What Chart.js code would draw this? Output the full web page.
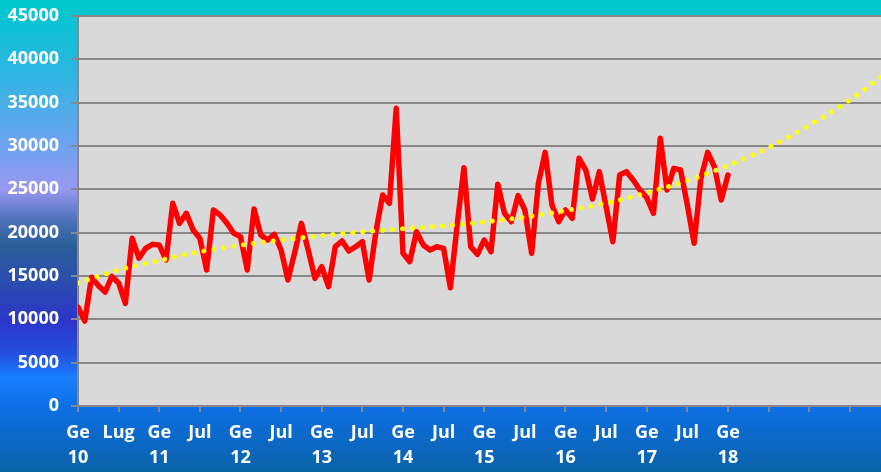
<!DOCTYPE html>
<html>
<head>
<meta charset="utf-8">
<script src="https://cdn.jsdelivr.net/npm/chart.js@4/dist/chart.umd.min.js"></script>
<style>
  html, body { margin: 0; padding: 0; }
  #wrap { width: 881px; height: 472px; }
</style>
</head>
<body>
<div id="wrap"><canvas id="grafico"></canvas></div>
<script>
// valori mensili, da Gennaio 2010 a Gennaio 2018 (indice mese 0..96)
const valoriMensili = [
  11400, 9800, 14850, 13900, 13150, 14950, 14200, 11850, 19350, 17050, 18200, 18650,
  18580, 16850, 23390, 21080, 22230, 20310, 19350, 15690, 22620, 22040, 21080, 19930,
  19540, 15690, 22730, 19730, 19150, 19810, 18000, 14540, 17700, 21080, 18000, 14730,
  16080, 13770, 18380, 19040, 17880, 18380, 18960, 14540, 20110, 24350, 23390, 34350,
  17620, 16650, 20110, 18580, 18000, 18380, 18190, 13650, 20880, 27500, 18380, 17500,
  19150, 17800, 25580, 22230, 21270, 24270, 22620, 17620, 25700, 29270, 23190, 21270,
  22620, 21650, 28580, 27230, 23880, 27040, 23000, 18960, 26650, 27040, 26080, 24920,
  24040, 22230, 30890, 24920, 27420, 27230, 23190, 18770, 26270, 29270, 27610, 23770,
  26650
];

// linea di tendenza letta ogni 6 mesi (mese 0..120)
const mesiTendenza = [0, 6, 12, 18, 24, 30, 36, 42, 48, 54, 60, 66, 72, 78, 84, 90, 96, 102, 108, 114, 120];
const valoriTendenza = [14200, 15700, 16800, 17800, 18550, 19150, 19650, 20100, 20450, 20770, 21230,
  21800, 22550, 23400, 24600, 26000, 27750, 29800, 32400, 35300, 38800];

// etichette dell'asse x, una ogni 6 mesi
const etichetteX = [
  ['Ge', '10'], 'Lug', ['Ge', '11'], 'Jul', ['Ge', '12'], 'Jul', ['Ge', '13'], 'Jul',
  ['Ge', '14'], 'Jul', ['Ge', '15'], 'Jul', ['Ge', '16'], 'Jul', ['Ge', '17'], 'Jul',
  ['Ge', '18'], '', '', '', ''
];

const GRIGIO = '#878787';

const sfondo = {
  id: 'sfondo',
  beforeDraw(chart) {
    const { ctx, chartArea, width, height } = chart;
    const g = ctx.createLinearGradient(0, 0, 0, height);
    g.addColorStop(0.00, '#02c8cc');
    g.addColorStop(0.04, '#08c4d2');
    g.addColorStop(0.15, '#2cb6e2');
    g.addColorStop(0.30, '#6aa4f0');
    g.addColorStop(0.40, '#9898f0');
    g.addColorStop(0.47, '#4a70b8');
    g.addColorStop(0.52, '#2a5f98');
    g.addColorStop(0.60, '#2a4cb0');
    g.addColorStop(0.68, '#2c35c8');
    g.addColorStop(0.75, '#2450e0');
    g.addColorStop(0.80, '#1a80ff');
    g.addColorStop(0.86, '#0d6fe6');
    g.addColorStop(1.00, '#0a62a8');
    ctx.save();
    ctx.fillStyle = g;
    ctx.fillRect(0, 0, width, height);
    ctx.fillStyle = '#d9d9d9';
    ctx.fillRect(chartArea.left, chartArea.top, chartArea.right - chartArea.left, chartArea.bottom - chartArea.top);
    ctx.restore();
  }
};

const datiSerie = valoriMensili.map((v, i) => ({ x: i, y: v }));
const datiTendenza = mesiTendenza.map((m, i) => ({ x: m, y: valoriTendenza[i] }));

new Chart(document.getElementById('grafico'), {
  type: 'line',
  data: {
    datasets: [
      {
        data: datiTendenza,
        borderColor: '#ffff00',
        borderWidth: 5,
        borderDash: [0, 10],
        borderCapStyle: 'round',
        cubicInterpolationMode: 'monotone',
        pointRadius: 0,
        fill: false,
        order: 1
      },
      {
        data: datiSerie,
        borderColor: '#ff0000',
        borderWidth: 5.5,
        borderJoinStyle: 'round',
        borderCapStyle: 'round',
        tension: 0,
        pointRadius: 0,
        fill: false,
        order: 2
      }
    ]
  },
  options: {
    responsive: true,
    maintainAspectRatio: false,
    animation: false,
    layout: { padding: { top: 16, left: 0, right: 0, bottom: 0 } },
    plugins: {
      legend: { display: false },
      tooltip: { enabled: false }
    },
    scales: {
      x: {
        type: 'linear',
        min: 0,
        max: 118.6,
        afterFit(scale) { scale.height = 66; },
        border: { color: GRIGIO, width: 2 },
        grid: { drawOnChartArea: false, color: GRIGIO, lineWidth: 2, tickLength: 6 },
        ticks: {
          stepSize: 6,
          includeBounds: false,
          autoSkip: false,
          maxRotation: 0,
          padding: 8,
          color: '#ffffff',
          font: { family: 'Open Sans', weight: 'bold', size: 18, lineHeight: 1.39 },
          callback: (v) => etichetteX[Math.round(v / 6)] ?? ''
        }
      },
      y: {
        min: 0,
        max: 45000,
        afterFit(scale) { scale.width = 78; scale.paddingTop = 0; },
        border: { color: GRIGIO, width: 2 },
        grid: { color: GRIGIO, lineWidth: 2, tickLength: 7 },
        ticks: {
          stepSize: 5000,
          padding: 12,
          color: '#ffffff',
          font: { family: 'Open Sans', weight: 'bold', size: 18, lineHeight: 0.8 },
          callback: (v) => String(v)
        }
      }
    }
  },
  plugins: [sfondo]
});
</script>
</body>
</html>
